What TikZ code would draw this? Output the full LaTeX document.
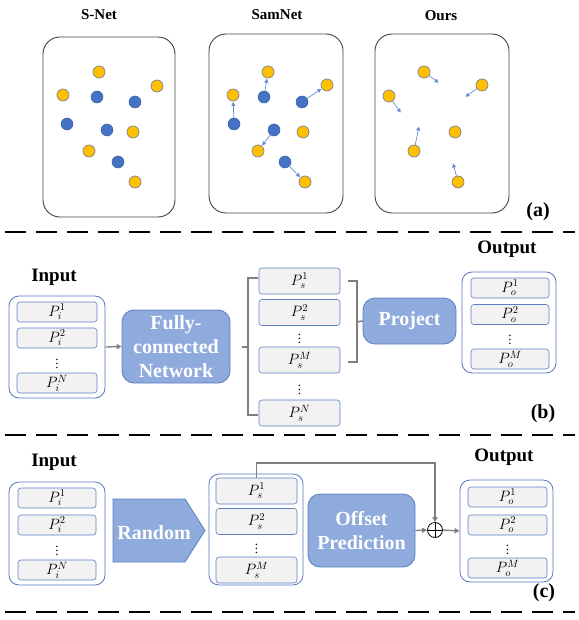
\documentclass[tikz,border=0pt]{standalone}
\usepackage{fix-cm}
\usepackage{fontspec}
\setmainfont{Liberation Serif}
\usetikzlibrary{arrows.meta}

\definecolor{blockfill}{HTML}{8FAADC}
\definecolor{blockline}{HTML}{5B7FC0}
\definecolor{groupline}{HTML}{5575BD}
\definecolor{cellfill}{HTML}{F2F2F2}
\definecolor{cellline}{HTML}{5B7FC0}
\definecolor{ptblue}{HTML}{4472C4}
\definecolor{ptblueline}{HTML}{3A5F9E}
\definecolor{ptyellow}{HTML}{FFC000}
\definecolor{ptyellowline}{HTML}{7F7F8F}
\definecolor{linkgray}{HTML}{7F7F7F}

\tikzset{
  frame/.style={draw=black!75, line width=0.9pt, rounded corners=17pt},
  title/.style={font=\bfseries\fontsize{15}{17}\selectfont},
  heading/.style={font=\bfseries\fontsize{19}{21}\selectfont},
  panellabel/.style={font=\bfseries\fontsize{20}{22}\selectfont},
  yel/.style={circle, fill=ptyellow, draw=ptyellowline, line width=0.7pt, minimum size=12pt, inner sep=0pt},
  blu/.style={circle, fill=ptblue, draw=ptblueline, line width=0.5pt, minimum size=12pt, inner sep=0pt},
  moveto/.style={draw=ptblue!80, line width=0.7pt, -{Triangle[length=4pt,width=4pt]}, shorten >=0.5pt},
  group/.style={draw=groupline, line width=0.8pt, rounded corners=10pt, inner sep=0pt},
  cell/.style={draw=cellline, fill=cellfill, line width=0.6pt, rounded corners=3pt, inner sep=0pt,
    font=\fontsize{15}{17}\selectfont},
  vdot/.style={inner sep=0pt, font=\fontsize{13}{14}\selectfont},
  block/.style={draw=blockline, fill=blockfill, line width=0.8pt, rounded corners=12pt, text=white,
    align=center, inner sep=0pt, font=\bfseries\fontsize{20}{24}\selectfont},
  link/.style={draw=linkgray, line width=1.3pt, -{Triangle[length=5pt,width=5pt]}},
  bracket/.style={draw=linkgray, line width=1.6pt},
  divider/.style={draw=black, line width=2.8pt, dash pattern=on 21pt off 10pt}
}

\begin{document}
\begin{tikzpicture}[x=1pt, y=-1pt]
\useasboundingbox (0,0) rectangle (578,620);

% ---------- (a) point sets ----------
\node[title] (tsnet) at (99,15) {S-Net};
\node[title] (tsam) at (277,15) {SamNet};
\node[title] (tours) at (441,16) {Ours};

\draw[frame] (43,37) rectangle (175,217);
\draw[frame] (209,34) rectangle (343,213);
\draw[frame] (375,34) rectangle (509,213);

% S-Net
\foreach \p/\x/\y in {a1/99/72, a2/157/86, a3/63/95, a4/133/132, a5/89/151, a6/135/182}
  \node[yel] (\p) at (\x,\y) {};
\foreach \p/\x/\y in {b1/97/97, b2/135/102, b3/67/124, b4/107/130, b5/118/162}
  \node[blu] (\p) at (\x,\y) {};

% SamNet
\foreach \p/\x/\y in {c1/268/72, c2/327/85, c3/233/95, c4/303/132, c5/258/151, c6/305/182}
  \node[yel] (\p) at (\x,\y) {};
\foreach \p/\x/\y in {d1/264/97, d2/302/102, d3/234/124, d4/274/130, d5/285/162}
  \node[blu] (\p) at (\x,\y) {};
\draw[moveto] (d3) -- (c3);
\draw[moveto] (d1) -- (c1);
\draw[moveto] (d2) -- (c2);
\draw[moveto] (d4) -- (c5);
\draw[moveto] (d5) -- (c6);

% Ours
\foreach \p/\x/\y in {e1/424/72, e2/482/85, e3/389/96, e4/455/132, e5/414/151, e6/458/182}
  \node[yel] (\p) at (\x,\y) {};
\coordinate (f1) at (439,83);
\coordinate (f2) at (465,97);
\coordinate (f3) at (401,113);
\coordinate (f5) at (419,126);
\coordinate (f6) at (453,163);
\draw[moveto] (e1) -- (f1);
\draw[moveto] (e2) -- (f2);
\draw[moveto] (e3) -- (f3);
\draw[moveto] (e5) -- (f5);
\draw[moveto] (e6) -- (f6);

\node[panellabel] (la) at (538,212) {(a)};

\draw[divider] (5,232) -- (575,232);

% ---------- (b) fully-connected sampling ----------
\node[heading] (bin) at (54,277) {Input};
\node[heading] (bout) at (507,249) {Output};

\node[group, minimum width=96pt, minimum height=102pt] (bingrp) at (57,347) {};
\node[cell, minimum width=80pt, minimum height=20pt] (bi1) at (57,312) {$P_i^1$};
\node[cell, minimum width=80pt, minimum height=20pt] (bi2) at (57,338) {$P_i^2$};
\node[vdot] (bid) at (57,361) {$\vdots$};
\node[cell, minimum width=80pt, minimum height=20pt] (biN) at (57,383) {$P_i^N$};

\node[block, minimum width=108pt, minimum height=73pt] (fc) at (176,346.5) {Fully-\\connected\\Network};
\draw[link] (bingrp.east) -- (fc.west);

\node[cell, minimum width=81pt, minimum height=26pt] (bs1) at (299.5,281) {$P_s^1$};
\node[cell, minimum width=81pt, minimum height=26pt] (bs2) at (299.5,312.5) {$P_s^2$};
\node[vdot] (bsd1) at (299.5,336) {$\vdots$};
\node[cell, minimum width=81pt, minimum height=26pt] (bsM) at (299.5,360) {$P_s^M$};
\node[vdot] (bsd2) at (299.5,387) {$\vdots$};
\node[cell, minimum width=81pt, minimum height=26pt] (bsN) at (299.5,413) {$P_s^N$};

% bracket gathering all N samples
\coordinate (lbt) at (258,278);
\coordinate (lbb) at (258,415);
\coordinate (lbm) at (242,347);
\draw[bracket] (lbt) -- (248,278) -- (248,415) -- (lbb);
\draw[bracket] (lbm) -- (248,347);

\node[block, minimum width=93pt, minimum height=46pt] (proj) at (409.5,321) {Project};

% bracket gathering the first M samples
\draw[bracket] (348,281) -- (357,281) -- (357,362) -- (348,362);
\draw[bracket] (357,322) -- (proj.west);

\node[group, minimum width=94pt, minimum height=101pt] (boutgrp) at (509,322.5) {};
\node[cell, minimum width=78pt, minimum height=20pt] (bo1) at (510,288) {$P_o^1$};
\node[cell, minimum width=78pt, minimum height=20pt] (bo2) at (510,314.5) {$P_o^2$};
\node[vdot] (bod) at (510,337) {$\vdots$};
\node[cell, minimum width=78pt, minimum height=20pt] (boM) at (510,359) {$P_o^M$};

\node[panellabel] (lb) at (543,414) {(b)};

\draw[divider] (5,435) -- (575,435);

% ---------- (c) random sampling with offsets ----------
\node[heading] (cin) at (54,462) {Input};
\node[heading] (cout) at (504,457) {Output};

\node[group, minimum width=96pt, minimum height=103pt] (cingrp) at (57,533.5) {};
\node[cell, minimum width=78pt, minimum height=20pt] (ci1) at (57,498) {$P_i^1$};
\node[cell, minimum width=78pt, minimum height=20pt] (ci2) at (57,525) {$P_i^2$};
\node[vdot] (cid) at (57,548) {$\vdots$};
\node[cell, minimum width=78pt, minimum height=20pt] (ciN) at (57,570) {$P_i^N$};

\path[fill=blockfill, draw=blockline, line width=0.8pt]
  (113,499) -- (185,499) -- (205,530.5) -- (185,562) -- (113,562) -- cycle;
\node[text=white, font=\bfseries\fontsize{20}{24}\selectfont] (rand) at (154,533) {Random};

\node[group, minimum width=94pt, minimum height=111pt] (csgrp) at (256,529.5) {};
\node[cell, minimum width=81pt, minimum height=26pt] (cs1) at (256.5,491) {$P_s^1$};
\node[cell, minimum width=81pt, minimum height=26pt] (cs2) at (256.5,521.5) {$P_s^2$};
\node[vdot] (csd) at (256.5,546) {$\vdots$};
\node[cell, minimum width=81pt, minimum height=26pt] (csM) at (256.5,570) {$P_s^M$};

\node[block, minimum width=107pt, minimum height=73pt] (offs) at (361.5,530.5) {Offset\\Prediction};

\node[circle, draw=black, line width=0.8pt, minimum size=15pt, inner sep=0pt] (sum) at (435,530) {};
\draw[line width=0.8pt] (sum.north) -- (sum.south) (sum.west) -- (sum.east);

\node[group, minimum width=93pt, minimum height=102pt] (coutgrp) at (506.5,531) {};
\node[cell, minimum width=79pt, minimum height=20pt] (co1) at (507.5,497) {$P_o^1$};
\node[cell, minimum width=79pt, minimum height=20pt] (co2) at (507.5,525) {$P_o^2$};
\node[vdot] (cod) at (507.5,547) {$\vdots$};
\node[cell, minimum width=79pt, minimum height=20pt] (coM) at (507.5,568) {$P_o^M$};

\draw[link] (offs.east) -- (sum.west);
\draw[link] (sum.east) -- (coutgrp.west);
\coordinate (loopcorner) at (256.5,463);
\draw[link] (cs1.north) -- (loopcorner) -| (sum.north);

\node[panellabel] (lc) at (544,593) {(c)};

\draw[divider] (5,612) -- (575,612);
\end{tikzpicture}
\end{document}
